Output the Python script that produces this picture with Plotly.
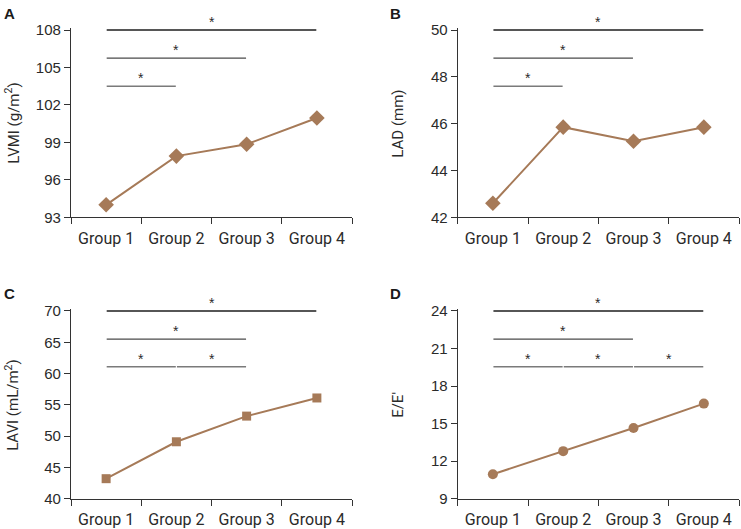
import plotly.graph_objects as go

# ---------------- data ----------------
groups = ["Group 1", "Group 2", "Group 3", "Group 4"]

lvmi = [94.0, 97.9, 98.85, 100.95]
lad = [42.6, 45.85, 45.25, 45.85]
lavi = [43.2, 49.1, 53.2, 56.1]
ee = [10.95, 12.8, 14.65, 16.6]

lvmi_ticks = [93, 96, 99, 102, 105, 108]
lad_ticks = [42, 44, 46, 48, 50]
lavi_ticks = [40, 45, 50, 55, 60, 65, 70]
ee_ticks = [9, 12, 15, 18, 21, 24]

# significance brackets: (from group index, to group index, y level)
lvmi_sig = [(0, 3, 108.0), (0, 2, 105.75), (0, 1, 103.5)]
lad_sig = [(0, 3, 50.0), (0, 2, 48.8), (0, 1, 47.6)]
lavi_sig = [(0, 3, 70.0), (0, 2, 65.5), (0, 1, 61.1), (1, 2, 61.1)]
ee_sig = [(0, 3, 24.0), (0, 2, 21.75), (0, 1, 19.55), (1, 2, 19.55), (2, 3, 19.55)]

# ---------------- layout geometry (pixels) ----------------
W, H = 741, 529
BROWN = "#a67a58"
AX = "#333333"

panels = [
    dict(letter="A", title="LVMI (g/m<sup>2</sup>)", vals=lvmi, ticks=lvmi_ticks, sig=lvmi_sig,
         symbol="diamond", msize=12, box=(71, 352, 30, 217.3), letter_xy=(2, 3), title_x=12),
    dict(letter="B", title="LAD (mm)", vals=lad, ticks=lad_ticks, sig=lad_sig,
         symbol="diamond", msize=12, box=(457.7, 739, 30, 217.3), letter_xy=(388, 3), title_x=398),
    dict(letter="C", title="LAVI (mL/m<sup>2</sup>)", vals=lavi, ticks=lavi_ticks, sig=lavi_sig,
         symbol="square", msize=9, box=(71, 352, 311, 498.7), letter_xy=(2, 283), title_x=12),
    dict(letter="D", title="E/E\u2032", vals=ee, ticks=ee_ticks, sig=ee_sig,
         symbol="circle", msize=10, box=(457.7, 739, 311, 498.7), letter_xy=(388, 283), title_x=398),
]

PAD = 0.012
fig = go.Figure()
layout = dict(
    template="none",
    width=W, height=H,
    margin=dict(l=0, r=0, t=0, b=0, pad=0, autoexpand=False),
    paper_bgcolor="white", plot_bgcolor="white",
    showlegend=False,
    font=dict(family="Roboto", size=15, color="#2a2a2a"),
    shapes=[], annotations=[],
)

sig_colors = ["#1e1e1e", "#4a4a4a", "#7a7a7a"]

for k, p in enumerate(panels):
    n = "" if k == 0 else str(k + 1)
    xa, ya = "x" + n, "y" + n
    left, right, top, bottom = p["box"]
    h = bottom - top
    lo, hi = p["ticks"][0], p["ticks"][-1]
    span = hi - lo
    dom_y = [1 - bottom / H, 1 - (top - PAD * h) / H]
    dom_x = [left / W, right / W]

    layout["xaxis" + n] = dict(
        domain=dom_x, anchor=ya, type="category", automargin=False,
        categoryorder="array", categoryarray=groups,
        range=[-0.5, len(groups) - 0.5],
        tickson="boundaries", ticks="outside", ticklen=6, tickwidth=1.2, tickcolor=AX,
        ticklabelstandoff=6,
        showline=True, linecolor=AX, linewidth=1.2, showgrid=False, zeroline=False,
        tickfont=dict(family="Roboto", size=16, color="#2a2a2a"),
    )
    layout["yaxis" + n] = dict(
        domain=dom_y, anchor=xa, automargin=False,
        range=[lo, hi + PAD * span],
        tickmode="array", tickvals=p["ticks"],
        ticks="outside", ticklen=6, tickwidth=1.2, tickcolor=AX,
        showline=True, linecolor=AX, linewidth=1.2, showgrid=False, zeroline=False,
        tickfont=dict(family="Liberation Sans, Arial", size=15, color="#2a2a2a"),
    )

    fig.add_trace(go.Scatter(
        x=groups, y=p["vals"], xaxis=xa, yaxis=ya,
        mode="lines+markers", cliponaxis=False,
        line=dict(color=BROWN, width=2),
        marker=dict(symbol=p["symbol"], size=p["msize"], color=BROWN),
        hoverinfo="skip",
    ))

    levels = sorted({s[2] for s in p["sig"]}, reverse=True)
    for (i, j, yv) in p["sig"]:
        col = sig_colors[min(levels.index(yv), len(sig_colors) - 1)]
        layout["shapes"].append(dict(
            type="line", xref=xa, yref=ya, x0=i + 0.008, x1=j - 0.008, y0=yv, y1=yv,
            line=dict(color=col, width=1.4),
        ))
        layout["annotations"].append(dict(
            xref=xa, yref=ya, x=(i + j) / 2, y=yv, text="*", showarrow=False,
            yanchor="bottom", xanchor="center", yshift=-2,
            font=dict(family="Liberation Sans, Arial", size=14, color="#2a2a2a"),
        ))

    # panel letter
    lx, ly = p["letter_xy"]
    layout["annotations"].append(dict(
        xref="paper", yref="paper", x=lx / W, y=1 - ly / H, text="<b>%s</b>" % p["letter"],
        showarrow=False, xanchor="left", yanchor="top",
        font=dict(family="Liberation Sans, Arial", size=15, color="#1a1a1a"),
    ))
    # y-axis title
    layout["annotations"].append(dict(
        xref="paper", yref="paper", x=p["title_x"] / W, y=1 - (top + bottom) / 2 / H,
        text=p["title"], textangle=-90, showarrow=False, xanchor="center", yanchor="middle",
        font=dict(family="Roboto", size=15, color="#2a2a2a"),
    ))

fig.update_layout(**layout)
fig.write_html("out.html", config={"displayModeBar": False},
               post_script="document.body.style.margin='0';")
